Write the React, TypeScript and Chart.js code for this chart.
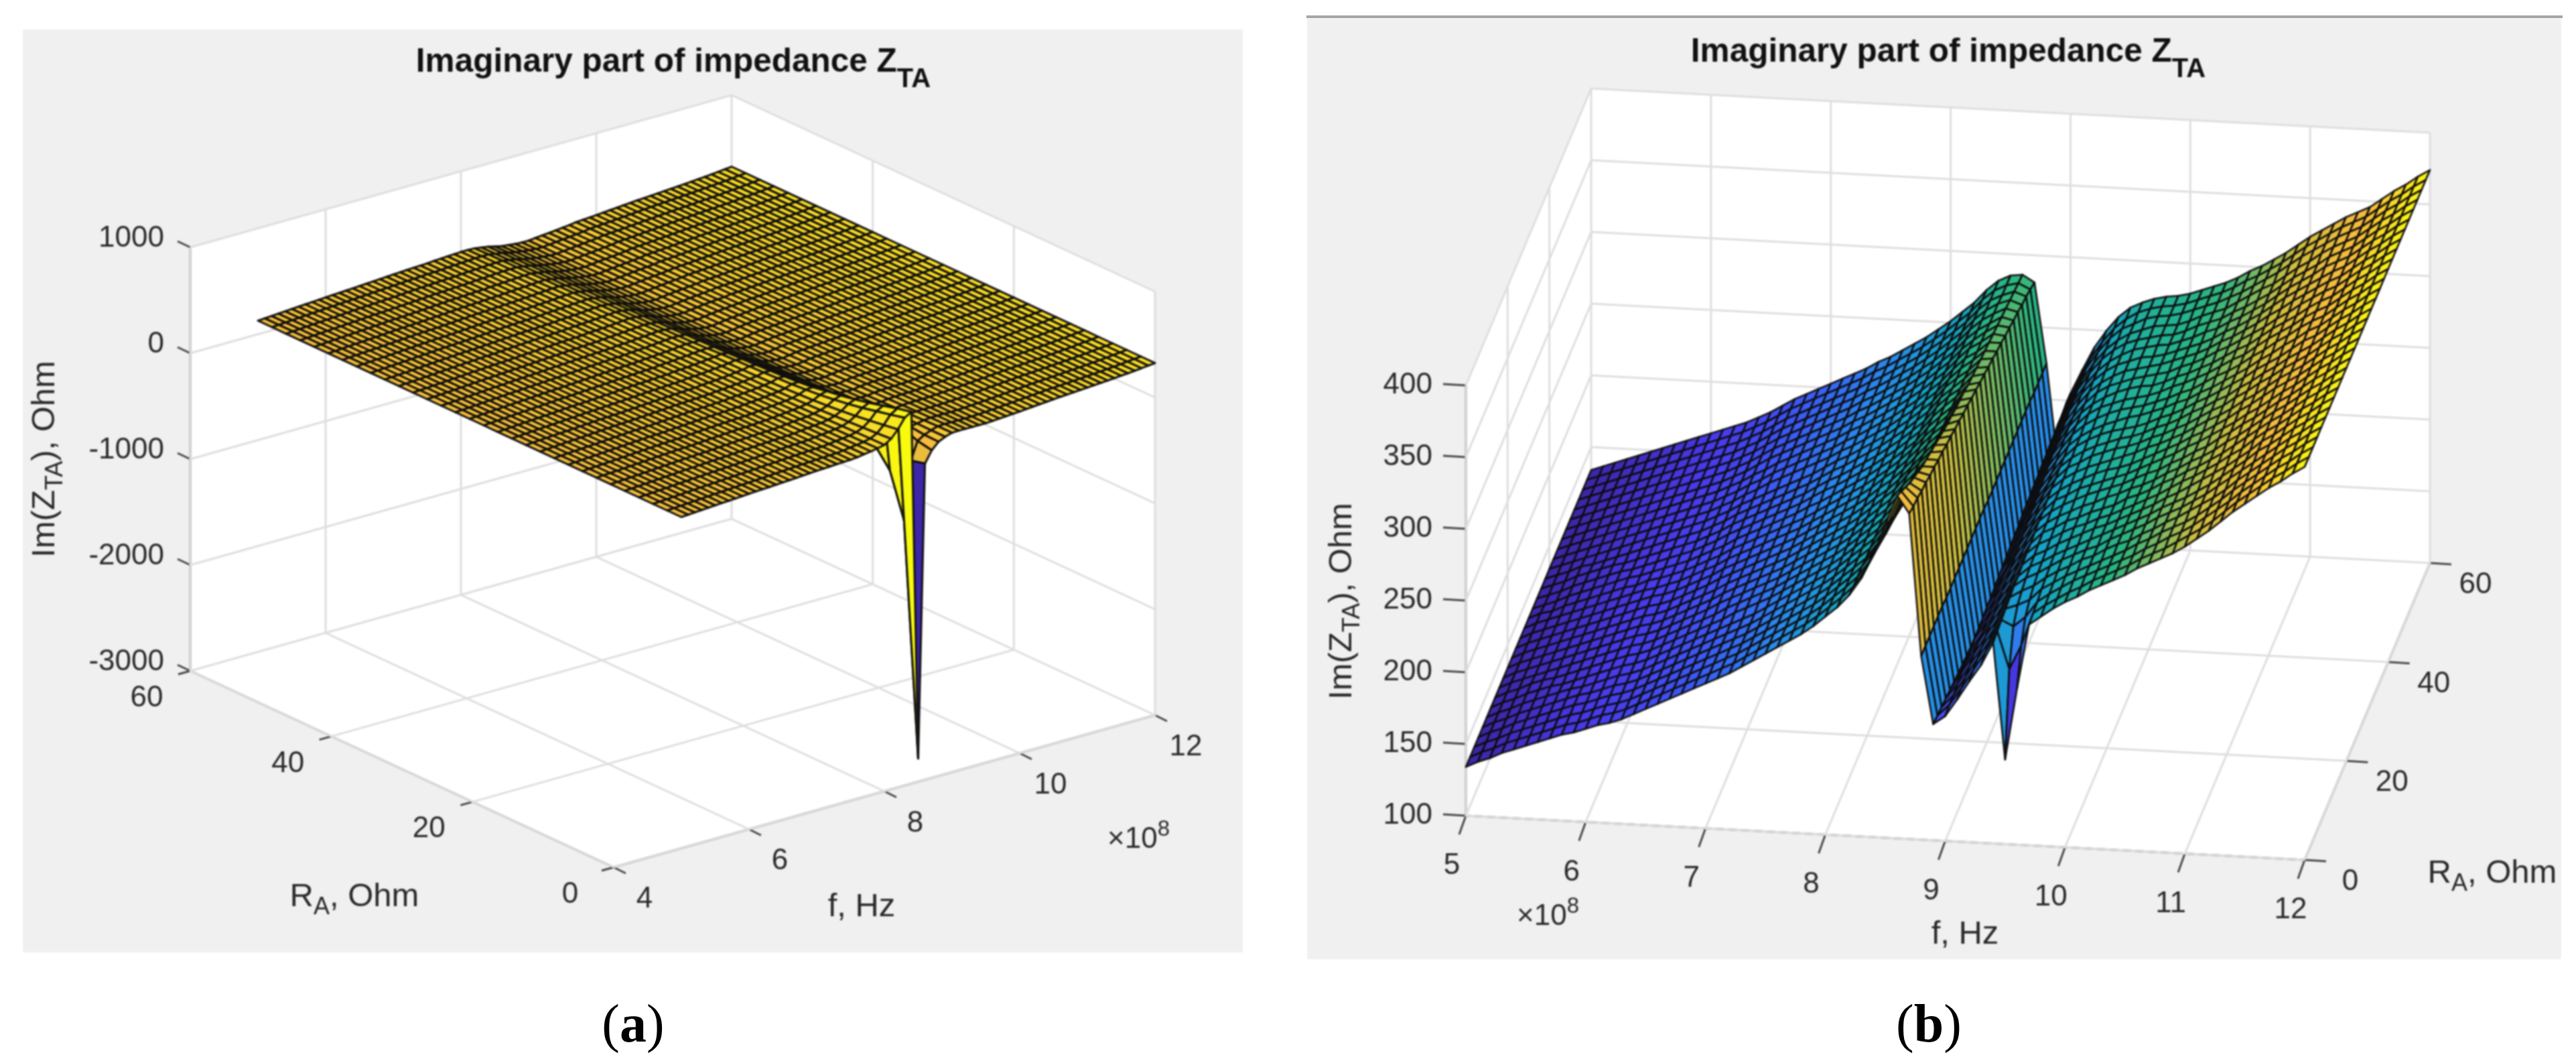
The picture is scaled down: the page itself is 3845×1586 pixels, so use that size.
import React, { useEffect, useRef } from "react";
import { Chart, registerables } from "chart.js";

Chart.register(...registerables);

// ---------- data ----------
// frequency, in units of 10^8 Hz
const fValues = [5.0,5.1,5.2,5.3,5.4,5.5,5.6,5.7,5.8,5.9,6.0,6.1,6.2,6.3,6.4,6.5,6.6,6.7,6.8,6.9,7.0,7.1,7.2,7.3,7.4,7.5,7.6,7.7,7.8,7.9,8.0,8.1,8.2,8.3,8.4,8.5,8.6,8.7,8.8,8.9,9.0,9.1,9.2,9.3,9.4,9.5,9.6,9.7,9.8,9.9,10.0,10.1,10.2,10.3,10.4,10.5,10.6,10.7,10.8,10.9,11.0,11.1,11.2,11.3,11.4,11.5,11.6,11.7,11.8,11.9,12.0];
// antenna resistance, Ohm
const rValues = [0,2,4,6,8,10,12,14,16,18,20,22,24,26,28,30,32,34,36,38,40,42,44,46,48,50,52,54,56,58,60];

// Panel (b), Im(Z_TA), Ohm: one row per frequency, one column per resistance
const imZ = [
[134,134,134,134,134,134,134,134,134,134,134,134,134,134,134,134,134,134,134,134,134,134,134,134,134,134,134,134,134,134,134],
[138,138,138,138,138,138,138,138,138,138,138,138,138,138,138,138,137,137,137,137,137,137,137,137,137,137,137,137,137,137,137],
[141,141,141,141,141,141,141,141,141,141,141,141,141,141,141,140,140,140,140,140,140,140,140,140,140,140,140,140,140,140,140],
[145,145,145,145,145,145,145,145,144,144,144,144,144,144,144,144,144,144,144,144,143,143,143,143,143,143,143,143,143,143,143],
[148,148,148,148,148,148,148,148,147,147,147,147,147,147,147,147,147,147,147,146,146,146,146,146,146,146,146,146,146,146,146],
[151,151,151,151,151,151,151,150,150,150,150,150,150,150,150,150,150,150,150,149,149,149,149,149,149,149,149,149,149,149,149],
[154,154,154,154,154,154,153,153,153,153,153,153,153,153,153,153,153,153,153,152,152,152,152,152,152,152,152,152,152,152,152],
[157,157,157,157,157,157,156,156,156,156,156,156,156,156,156,156,156,156,155,155,155,155,155,155,155,155,155,155,155,155,155],
[160,160,160,160,160,159,159,159,159,159,159,159,159,159,159,159,159,158,158,158,158,158,158,158,158,158,158,158,158,158,158],
[162,162,162,162,162,162,162,162,162,162,162,162,162,162,162,161,161,161,161,161,161,161,161,161,161,161,161,161,161,161,161],
[165,165,165,165,165,165,165,165,165,165,165,165,165,165,165,165,164,164,164,164,164,164,164,164,164,164,164,164,164,164,164],
[168,168,168,168,168,168,168,168,168,168,168,168,168,168,167,167,167,167,167,167,167,167,167,167,167,167,167,167,167,167,167],
[170,170,170,170,170,170,170,170,170,170,170,170,170,170,170,170,170,170,170,170,170,170,170,170,170,170,170,170,170,170,170],
[173,173,173,173,173,173,173,173,173,173,173,173,173,173,173,173,173,173,173,173,173,173,173,173,173,173,173,173,173,173,173],
[177,177,177,177,177,177,177,177,177,177,177,177,177,177,177,177,177,177,177,177,177,177,177,177,177,177,177,177,177,177,177],
[181,181,181,181,181,181,181,181,181,181,181,181,181,181,181,181,181,181,181,181,181,181,181,181,181,181,181,181,181,181,181],
[185,185,185,185,185,185,185,185,185,185,185,185,185,185,185,185,185,186,186,186,186,186,186,186,186,186,186,186,186,186,186],
[189,189,189,189,189,189,189,189,189,189,189,189,190,190,190,190,190,190,190,190,190,190,190,190,191,191,191,191,191,191,191],
[193,193,193,193,193,193,193,193,193,194,194,194,194,194,194,194,194,194,194,194,194,195,195,195,195,195,195,195,195,195,195],
[197,197,197,197,197,197,197,197,198,198,198,198,198,198,198,198,198,198,198,198,198,199,199,199,199,199,199,199,199,199,199],
[201,201,201,201,201,201,201,202,202,202,202,202,202,202,202,202,202,202,202,202,202,203,203,203,203,203,203,203,203,203,203],
[205,205,205,205,205,205,205,206,206,206,206,206,206,206,206,206,206,206,206,206,206,207,207,207,207,207,207,207,207,207,207],
[209,209,209,209,209,209,209,210,210,210,210,210,210,210,210,210,210,210,210,210,210,211,211,211,211,211,211,211,211,211,211],
[214,214,214,214,214,214,214,214,214,214,214,214,214,214,214,214,215,215,215,215,215,215,215,215,215,215,215,215,215,215,215],
[219,219,219,219,219,219,219,219,219,219,219,219,219,219,219,219,219,220,220,220,220,220,220,220,220,220,220,220,220,220,220],
[224,224,224,224,224,224,224,224,224,224,224,224,224,224,224,224,224,224,224,224,224,224,224,224,224,224,224,224,224,224,224],
[229,229,229,229,229,229,229,229,229,229,229,229,229,229,229,229,229,229,229,229,229,229,229,229,229,229,229,229,229,229,229],
[234,234,234,234,234,234,234,234,234,234,234,234,234,234,234,234,234,234,234,234,234,234,234,234,234,234,234,234,234,234,234],
[239,239,239,239,239,239,239,239,239,239,239,239,239,239,239,239,239,239,239,239,239,239,239,239,239,239,239,239,239,239,239],
[245,245,245,245,245,245,245,245,245,245,245,245,245,245,245,245,245,245,245,245,245,245,245,245,245,245,245,245,245,245,245],
[252,252,252,252,252,252,252,252,252,252,252,252,252,252,252,251,251,251,251,251,251,251,251,251,251,251,251,251,251,251,251],
[259,259,259,259,259,259,259,259,259,259,259,259,258,258,258,258,258,258,258,258,258,258,258,258,258,258,258,258,258,258,258],
[268,267,267,267,266,266,266,266,266,266,266,266,266,266,266,266,265,265,265,265,265,265,265,265,265,265,265,265,265,265,265],
[280,279,278,278,277,277,277,276,276,276,276,276,275,275,275,275,275,275,275,275,275,274,274,274,274,274,274,274,274,274,274],
[297,295,293,291,290,289,288,287,286,286,285,285,284,284,284,283,283,283,283,282,282,282,282,282,281,281,281,281,281,281,281],
[318,314,310,307,304,302,300,298,297,296,295,294,293,292,291,291,290,290,289,289,288,288,287,287,287,286,286,286,285,285,285],
[339,335,331,327,324,321,318,316,314,312,310,308,306,305,303,302,301,299,298,297,296,295,294,293,292,291,290,289,288,287,286],
[327,325,324,322,321,319,318,316,315,313,312,310,309,307,306,304,303,301,300,298,297,295,294,292,291,289,288,286,285,283,281],
[228,228,228,228,228,228,227,227,227,227,227,227,227,227,227,227,226,226,226,226,226,226,226,226,226,226,226,225,225,225,225],
[181,180,179,178,177,176,175,174,173,172,171,170,169,168,167,166,165,164,163,162,161,160,159,158,157,156,155,155,154,153,152],
[187,188,188,189,190,190,191,192,192,193,194,194,195,196,196,197,198,198,199,200,200,201,201,202,202,203,203,204,204,205,205],
[199,200,201,202,203,204,204,205,206,207,208,209,209,210,211,212,213,213,214,215,216,217,217,218,219,219,220,220,221,221,222],
[212,213,214,215,216,217,218,219,220,221,222,223,224,225,226,227,228,229,230,231,232,232,233,234,235,235,236,236,237,237,238],
[224,226,227,228,229,230,231,232,233,234,235,236,237,238,239,240,240,241,242,243,244,245,245,246,247,247,248,248,249,249,250],
[240,241,242,243,244,245,245,246,247,247,248,249,249,250,251,251,252,252,253,254,254,255,255,256,257,257,258,258,259,259,260],
[159,215,238,246,249,251,252,253,254,255,255,256,257,257,258,259,259,260,260,261,262,262,263,263,264,264,265,265,266,266,267],
[209,232,245,250,253,255,256,257,258,259,260,261,261,262,263,263,264,265,265,266,267,267,268,268,269,269,270,270,270,271,271],
[254,255,256,258,259,260,261,262,263,264,264,265,266,266,267,268,268,269,269,270,270,271,271,272,272,273,273,273,274,274,274],
[260,261,262,263,264,265,265,266,267,267,268,269,269,270,270,271,271,272,272,273,273,274,274,274,275,275,275,276,276,276,276],
[266,266,267,268,268,269,269,270,270,271,271,272,272,273,273,274,274,274,275,275,275,276,276,276,276,277,277,277,277,277,277],
[271,271,272,272,273,273,273,274,274,274,275,275,275,275,276,276,276,276,277,277,277,277,278,278,278,278,278,278,279,279,279],
[275,275,276,276,276,276,277,277,277,277,278,278,278,278,279,279,279,279,280,280,280,280,280,281,281,281,281,281,282,282,282],
[280,280,280,280,281,281,281,281,281,282,282,282,282,282,283,283,283,283,283,283,284,284,284,284,284,284,285,285,285,285,285],
[284,284,284,284,285,285,285,285,285,285,285,286,286,286,286,286,286,286,287,287,287,287,287,287,287,288,288,288,288,288,288],
[288,288,288,288,288,289,289,289,289,289,289,289,290,290,290,290,290,290,290,290,291,291,291,291,291,291,291,291,292,292,292],
[292,292,292,293,293,293,293,293,293,294,294,294,294,294,294,294,295,295,295,295,295,295,296,296,296,296,296,296,296,297,297],
[297,297,297,297,297,298,298,298,298,298,298,298,299,299,299,299,299,299,299,300,300,300,300,300,300,300,300,301,301,301,301],
[301,301,301,302,302,302,302,302,303,303,303,303,303,303,304,304,304,304,304,304,305,305,305,305,305,305,305,306,306,306,306],
[305,305,306,306,306,306,306,307,307,307,307,307,308,308,308,308,308,309,309,309,309,309,310,310,310,310,310,310,311,311,311],
[309,310,310,310,311,311,311,312,312,312,312,313,313,313,313,314,314,314,314,315,315,315,315,316,316,316,316,316,317,317,317],
[314,315,315,315,316,316,316,317,317,317,318,318,318,319,319,319,319,320,320,320,321,321,321,321,322,322,322,322,323,323,323],
[320,320,321,321,321,322,322,322,323,323,323,324,324,324,324,325,325,325,325,326,326,326,326,327,327,327,327,327,328,328,328],
[326,326,327,327,327,328,328,328,328,329,329,329,329,330,330,330,330,330,331,331,331,331,332,332,332,332,332,333,333,333,333],
[333,333,333,334,334,334,334,334,335,335,335,335,335,336,336,336,336,336,336,337,337,337,337,337,337,338,338,338,338,338,338],
[340,340,340,340,340,340,341,341,341,341,341,341,341,341,341,341,341,342,342,342,342,342,342,342,342,342,342,342,342,342,342],
[346,346,346,346,346,346,346,346,346,346,346,346,346,346,346,346,346,346,346,346,346,346,346,346,346,346,346,346,346,346,346],
[352,352,352,352,352,352,352,352,352,352,352,352,352,352,352,352,352,352,352,352,352,352,352,352,352,352,352,352,352,352,352],
[358,358,358,358,358,358,358,358,358,358,358,358,358,358,358,358,358,358,358,358,358,358,358,358,358,358,358,358,358,358,358],
[363,363,363,363,363,363,363,363,363,363,363,363,363,363,363,363,363,363,363,363,363,363,363,363,363,363,363,363,363,363,363],
[369,369,369,369,369,369,369,369,369,369,369,369,369,369,369,369,369,369,369,369,369,369,369,369,369,369,369,369,369,369,369],
[374,374,374,374,374,374,374,374,374,374,374,374,374,374,374,374,374,374,374,374,374,374,374,374,374,374,374,374,374,374,374],
];

// Panel (a), Im(Z_TA), Ohm. Away from the resonance the surface is level in R at this scale:
// one value per frequency outside 7.6 to 9.6.
const flatFrequenciesA = [5.0,5.1,5.2,5.3,5.4,5.5,5.6,5.7,5.8,5.9,6.0,6.1,6.2,6.3,6.4,6.5,6.6,6.7,6.8,6.9,7.0,7.1,7.2,7.3,7.4,7.5,9.7,9.8,9.9,10.0,10.1,10.2,10.3,10.4,10.5,10.6,10.7,10.8,10.9,11.0,11.1,11.2,11.3,11.4,11.5,11.6,11.7,11.8,11.9,12.0];
const flatValuesA = [128,132,136,140,144,148,152,156,160,164,168,172,175,178,181,185,189,193,197,201,205,208,211,214,217,220,214,218,222,227,232,237,242,247,252,257,261,265,269,273,277,281,285,290,295,300,306,312,319,325];
// Panel (a) rows from f = 7.6 to f = 9.6, with the deep notch at f = 8.5, R = 0
const resonanceRowsA = [
[225,226,227,228,228,228,228,228,228,228,228,228,228,228,227,227,227,227,226,226,226,226,226,225,225,225,225,225,225,225,225],
[236,236,236,236,235,235,234,233,233,232,232,232,231,231,231,230,230,230,230,229,229,229,229,229,229,228,228,228,228,228,228],
[244,244,243,242,241,240,240,239,238,237,237,236,236,235,235,235,234,234,234,233,233,233,233,232,232,232,232,232,232,232,232],
[256,254,252,250,248,246,247,246,245,244,243,242,242,241,241,240,240,239,239,238,238,238,237,237,237,236,236,236,235,235,235],
[270,268,265,262,259,256,254,253,252,250,249,248,248,247,246,246,245,245,244,244,243,243,242,242,241,241,240,240,239,239,238],
[310,300,292,284,277,271,266,262,260,258,257,256,255,254,253,252,251,250,249,249,248,247,246,246,245,244,243,242,241,240,238],
[380,360,340,322,307,295,285,278,272,268,265,263,262,260,259,258,256,255,254,253,252,250,249,248,247,246,244,242,241,239,236],
[472,440,410,380,355,335,318,305,295,288,282,278,274,271,262,258,255,252,250,248,246,244,242,240,238,236,234,232,230,228,226],
[510,480,445,410,380,355,335,310,298,288,280,274,268,262,258,254,250,246,243,240,237,234,232,230,228,226,224,222,220,218,216],
[-2780,-594,-184,-20,80,150,200,235,250,252,250,246,242,238,234,231,228,226,224,222,220,218,216,214,212,210,208,206,204,202,200],
[-14,-48,100,190,225,232,232,230,228,225,222,219,216,213,210,208,206,204,202,200,199,198,197,196,195,194,193,192,191,190,185],
[93,120,170,200,210,210,208,205,202,199,197,195,193,191,190,189,188,187,186,185,184,184,183,183,182,182,181,181,180,180,178],
[156,160,175,185,190,190,188,186,184,182,180,178,177,176,175,174,173,173,172,172,172,172,172,172,172,172,172,172,172,172,170],
[185,185,187,188,188,187,185,183,180,177,174,172,170,168,167,166,165,165,165,165,165,165,165,165,165,165,166,166,166,166,166],
[205,205,200,196,192,188,185,182,178,175,172,170,168,166,165,164,164,164,164,164,164,164,165,165,165,165,165,165,165,165,165],
[208,208,206,204,201,198,195,192,189,186,183,180,178,176,174,173,172,172,172,172,172,172,172,172,172,172,172,172,172,172,172],
[207,207,206,205,204,202,200,198,196,194,192,190,188,186,184,183,182,181,181,180,180,180,179,179,179,179,179,178,178,178,178],
[206,206,206,205,205,204,203,202,200,199,197,196,194,193,192,191,190,189,188,188,187,187,186,186,186,185,185,185,184,184,184],
[206,206,206,206,205,205,204,204,203,202,201,200,199,198,197,196,196,195,194,194,193,193,192,192,192,191,191,191,190,190,190],
[206,207,207,207,207,206,206,206,205,205,204,204,203,203,202,202,201,201,200,200,199,199,199,198,198,198,197,197,197,197,197],
[210,210,210,210,210,210,209,209,209,209,208,208,208,207,207,207,206,206,206,205,205,205,205,205,204,204,204,204,204,204,204],
];
const resonanceFrequenciesA = [7.6,7.7,7.8,7.9,8.0,8.1,8.2,8.3,8.4,8.5,8.6,8.7,8.8,8.9,9.0,9.1,9.2,9.3,9.4,9.5,9.6];

const zTicksA = [-3000,-2000,-1000,0,1000];
const fTicksA = [4,6,8,10,12];
const rTicksA = [0,20,40,60];
const zTicksB = [100,150,200,250,300,350,400];
const fTicksB = [5,6,7,8,9,10,11,12];
const rTicksB = [0,20,40,60];
const titleText = "Imaginary part of impedance Z";

// colour map stops as they appear in the picture (parula)
const parula = [[62,38,168],[72,58,235],[60,90,245],[40,140,235],[20,165,195],[40,182,130],[205,190,62],[248,188,60],[249,251,14]];

// ---------- view geometry and styling ----------
const viewA = {
  box: [34, 44, 1855, 1421],
  origin: [916, 1294], fRange: [4, 12], zRange: [-3000, 1000],
  fVec: [808, -227], rVec: [-632, -293], zVec: [0, -632],
  zAxisF: 4, zAxisR: 60, rAxisF: 4, sideF: 12,
  zTicks: zTicksA, fTicks: fTicksA, rTicks: rTicksA,
  zTickVec: [-19, -9], fTickVec: [18, 9], rTickVec: [-18, 5],
  zLabelOff: [-39, -13], fLabelOff: [46, 48], rLabelOff: [-65, 41],
  title: [1005, 91], zName: [64, 685], fName: [1286, 1350], rName: [529, 1335], exp: [1653, 1250],
  meshWidth: 3.2,
};
const viewB = {
  box: [1951, 27, 3823, 1431],
  origin: [2188, 1217], fRange: [5, 12], zRange: [100, 400],
  fVec: [1252, 66], rVec: [187, -443], zVec: [0, -642],
  zAxisF: 5, zAxisR: 0, rAxisF: 12, sideF: 5,
  zTicks: zTicksB, fTicks: fTicksB, rTicks: rTicksB,
  zTickVec: [-34, -2], fTickVec: [-10, 28], rTickVec: [32, 2],
  zLabelOff: [-50, 0], fLabelOff: [-21, 75], rLabelOff: [68, 33],
  title: [2908, 76], zName: [2000, 897], fName: [2933, 1391], rName: [3720, 1300], exp: [2264, 1365],
  meshWidth: 2.8,
};

const FONT = '"Liberation Sans", Arial, sans-serif';
const TEXT = "#2a2a2a";

function tableForA() {
  return fValues.map((f) => {
    const k = resonanceFrequenciesA.indexOf(f);
    if (k >= 0) return resonanceRowsA[k];
    const value = flatValuesA[flatFrequenciesA.indexOf(f)];
    return rValues.map(() => value);
  });
}

function project(v: any, f: number, r: number, z: number) {
  const a = (f - v.fRange[0]) / (v.fRange[1] - v.fRange[0]);
  const b = r / 60;
  const c = (z - v.zRange[0]) / (v.zRange[1] - v.zRange[0]);
  return {
    x: v.origin[0] + a * v.fVec[0] + b * v.rVec[0] + c * v.zVec[0],
    y: v.origin[1] + a * v.fVec[1] + b * v.rVec[1] + c * v.zVec[1],
  };
}

function parulaColor(t: number) {
  const u = Math.max(0, Math.min(1, t)) * (parula.length - 1);
  const i = Math.min(parula.length - 2, Math.floor(u));
  const w = u - i;
  const c = parula[i].map((p, k) => Math.round(p + (parula[i + 1][k] - p) * w));
  return `rgb(${c[0]},${c[1]},${c[2]})`;
}

const GAP = { x: NaN, y: NaN };

function gridPoints(v: any) {
  const [zMin, zMax] = v.zRange;
  const [f0, f1] = v.fRange;
  const side = v.sideF;
  const other = side === f0 ? f1 : f0;
  const pts: any[] = [];
  for (const f of v.fTicks) pts.push(project(v, f, 0, zMin), project(v, f, 60, zMin), project(v, f, 60, zMax), GAP);
  for (const r of v.rTicks) pts.push(project(v, other, r, zMin), project(v, side, r, zMin), project(v, side, r, zMax), GAP);
  for (const z of v.zTicks) pts.push(project(v, other, 60, z), project(v, side, 60, z), project(v, side, 0, z), GAP);
  return pts;
}

function axisPoints(v: any) {
  const [zMin, zMax] = v.zRange;
  const [f0, f1] = v.fRange;
  const pts: any[] = [];
  pts.push(project(v, v.zAxisF, v.zAxisR, zMin), project(v, v.zAxisF, v.zAxisR, zMax), GAP);
  pts.push(project(v, v.rAxisF, 0, zMin), project(v, v.rAxisF, 60, zMin), GAP);
  pts.push(project(v, f0, 0, zMin), project(v, f1, 0, zMin), GAP);
  const add = (p: any, d: number[]) => { pts.push(p, { x: p.x + d[0], y: p.y + d[1] }, GAP); };
  for (const z of v.zTicks) add(project(v, v.zAxisF, v.zAxisR, z), v.zTickVec);
  for (const f of v.fTicks) add(project(v, f, 0, zMin), v.fTickVec);
  for (const r of v.rTicks) add(project(v, v.rAxisF, r, zMin), v.rTickVec);
  return pts;
}

function drawRuns(ctx: any, runs: any[], x: number, y: number, align: string, rotate = false) {
  ctx.save();
  ctx.translate(x, y);
  if (rotate) ctx.rotate(-Math.PI / 2);
  ctx.textBaseline = "alphabetic";
  ctx.textAlign = "left";
  let total = 0;
  for (const r of runs) { ctx.font = r.font; total += ctx.measureText(r.t).width; }
  let cx = align === "center" ? -total / 2 : 0;
  for (const r of runs) {
    ctx.font = r.font;
    ctx.fillStyle = r.color || TEXT;
    ctx.fillText(r.t, cx, r.dy);
    cx += ctx.measureText(r.t).width;
  }
  ctx.restore();
}

function SurfaceChart({ view, table }: { view: any; table: number[][] }) {
  const ref = useRef<HTMLCanvasElement | null>(null);
  useEffect(() => {
    const v = view;
    const [left, top, right, bottom] = v.box;
    const canvas = ref.current as HTMLCanvasElement;
    const nodes: any[] = [];
    fValues.forEach((f, i) => rValues.forEach((r, j) => nodes.push(project(v, f, r, table[i][j]))));
    const flat = table.flat();
    const zLo = Math.min(...flat);
    const zHi = Math.max(...flat);
    const nR = rValues.length;

    const cells: any[] = [];
    for (let i = 0; i < fValues.length - 1; i++) {
      for (let j = 0; j < nR - 1; j++) {
        const base = project(v, (fValues[i] + fValues[i + 1]) / 2, (rValues[j] + rValues[j + 1]) / 2, v.zRange[0]);
        cells.push({
          idx: [i * nR + j, (i + 1) * nR + j, (i + 1) * nR + j + 1, i * nR + j + 1],
          depth: base.y,
          color: parulaColor((table[i][j] - zLo) / (zHi - zLo)),
        });
      }
    }
    cells.sort((a, b) => a.depth - b.depth);

    const surfacePlugin = {
      id: "surface",
      beforeDatasetsDraw(chart: any) {
        const { ctx, scales } = chart;
        const [zMin, zMax] = v.zRange;
        const side = v.sideF;
        const other = side === v.fRange[0] ? v.fRange[1] : v.fRange[0];
        const hex = [[other,60,zMin],[other,60,zMax],[side,60,zMax],[side,0,zMax],[side,0,zMin],[other,0,zMin]];
        ctx.save();
        ctx.beginPath();
        hex.forEach((h, k) => {
          const p = project(v, h[0], h[1], h[2]);
          const px = scales.x.getPixelForValue(p.x);
          const py = scales.y.getPixelForValue(p.y);
          if (k) ctx.lineTo(px, py); else ctx.moveTo(px, py);
        });
        ctx.closePath();
        ctx.fillStyle = "#ffffff";
        ctx.fill();
        ctx.restore();
      },
      afterDatasetsDraw(chart: any) {
        const { ctx, scales } = chart;
        const pts = chart.data.datasets[2].data.map((p: any) => [scales.x.getPixelForValue(p.x), scales.y.getPixelForValue(p.y)]);
        ctx.save();
        ctx.lineJoin = "round";
        ctx.lineWidth = v.meshWidth;
        ctx.strokeStyle = "rgba(12,12,12,0.92)";
        for (const c of cells) {
          ctx.beginPath();
          c.idx.forEach((n: number, k: number) => {
            if (k) ctx.lineTo(pts[n][0], pts[n][1]); else ctx.moveTo(pts[n][0], pts[n][1]);
          });
          ctx.closePath();
          ctx.fillStyle = c.color;
          ctx.fill();
          ctx.stroke();
        }
        ctx.restore();
      },
      afterDraw(chart: any) {
        const { ctx, scales } = chart;
        const X = (x: number) => scales.x.getPixelForValue(x);
        const Y = (y: number) => scales.y.getPixelForValue(y);
        const tick = `44px ${FONT}`;
        const label = `49px ${FONT}`;
        const sub = `36px ${FONT}`;
        ctx.save();
        ctx.fillStyle = TEXT;
        ctx.font = tick;
        ctx.textBaseline = "middle";
        ctx.textAlign = "right";
        for (const z of v.zTicks) {
          const p = project(v, v.zAxisF, v.zAxisR, z);
          ctx.fillText(String(z), X(p.x + v.zLabelOff[0]), Y(p.y + v.zLabelOff[1]));
        }
        ctx.textAlign = "center";
        for (const f of v.fTicks) {
          const p = project(v, f, 0, v.zRange[0]);
          ctx.fillText(String(f), X(p.x + v.fLabelOff[0]), Y(p.y + v.fLabelOff[1]));
        }
        for (const r of v.rTicks) {
          const p = project(v, v.rAxisF, r, v.zRange[0]);
          ctx.fillText(String(r), X(p.x + v.rLabelOff[0]), Y(p.y + v.rLabelOff[1]));
        }
        ctx.restore();

        drawRuns(ctx, [
          { t: titleText, font: `bold 49.5px ${FONT}`, dy: 16, color: "#111" },
          { t: "TA", font: `bold 40px ${FONT}`, dy: 39, color: "#111" },
        ], X(v.title[0]), Y(v.title[1]), "center");
        drawRuns(ctx, [
          { t: "Im(Z", font: label, dy: 17 },
          { t: "TA", font: sub, dy: 29 },
          { t: "), Ohm", font: label, dy: 17 },
        ], X(v.zName[0]), Y(v.zName[1]), "center", true);
        drawRuns(ctx, [{ t: "f, Hz", font: label, dy: 17 }], X(v.fName[0]), Y(v.fName[1]), "center");
        drawRuns(ctx, [
          { t: "R", font: label, dy: 17 },
          { t: "A", font: sub, dy: 29 },
          { t: ", Ohm", font: label, dy: 17 },
        ], X(v.rName[0]), Y(v.rName[1]), "center");
        drawRuns(ctx, [
          { t: "×10", font: `44px ${FONT}`, dy: 15 },
          { t: "8", font: `33px ${FONT}`, dy: -3 },
        ], X(v.exp[0]), Y(v.exp[1]), "left");
      },
    };

    const chart = new Chart(canvas, {
      type: "scatter",
      data: {
        datasets: [
          { label: "grid", data: gridPoints(v), showLine: true, spanGaps: false, borderColor: "#dedede", borderWidth: 3, pointRadius: 0 },
          { label: "axes", data: axisPoints(v), showLine: true, spanGaps: false, borderColor: "#4a4a4a", borderWidth: 3, pointRadius: 0 },
          { label: "Im(Z_TA)", data: nodes, showLine: false, pointRadius: 0 },
        ],
      },
      options: {
        animation: false,
        responsive: false,
        layout: { padding: 0 },
        plugins: { legend: { display: false }, tooltip: { enabled: false }, title: { display: false } },
        scales: {
          x: { type: "linear", display: false, min: left, max: right },
          y: { type: "linear", display: false, min: top, max: bottom, reverse: true },
        },
      },
      plugins: [surfacePlugin],
    } as any);
    return () => chart.destroy();
  }, [view, table]);

  const [left, top, right, bottom] = view.box;
  return (
    <canvas
      ref={ref}
      width={right - left}
      height={bottom - top}
      style={{ position: "absolute", left, top, width: right - left, height: bottom - top, background: "#f0f0f0", filter: "blur(0.9px)" }}
    />
  );
}

const captionStyle: React.CSSProperties = {
  position: "absolute", top: 1482, fontFamily: '"Liberation Serif", serif', fontSize: 80, lineHeight: "90px",
  color: "#000", transform: "translateX(-50%)", whiteSpace: "nowrap",
};

const tableA = tableForA();

export default function App() {
  return (
    <div style={{ position: "absolute", left: 0, top: 0, width: 3845, height: 1586, background: "#fff", overflow: "hidden" }}>
      <SurfaceChart view={viewA} table={tableA} />
      <SurfaceChart view={viewB} table={imZ} />
      <div style={{ position: "absolute", left: 1950, top: 23, width: 1875, height: 4, background: "#a6a6a6" }} />
      <div style={{ ...captionStyle, left: 945 }}>(<b>a</b>)</div>
      <div style={{ ...captionStyle, left: 2879 }}>(<b>b</b>)</div>
    </div>
  );
}
